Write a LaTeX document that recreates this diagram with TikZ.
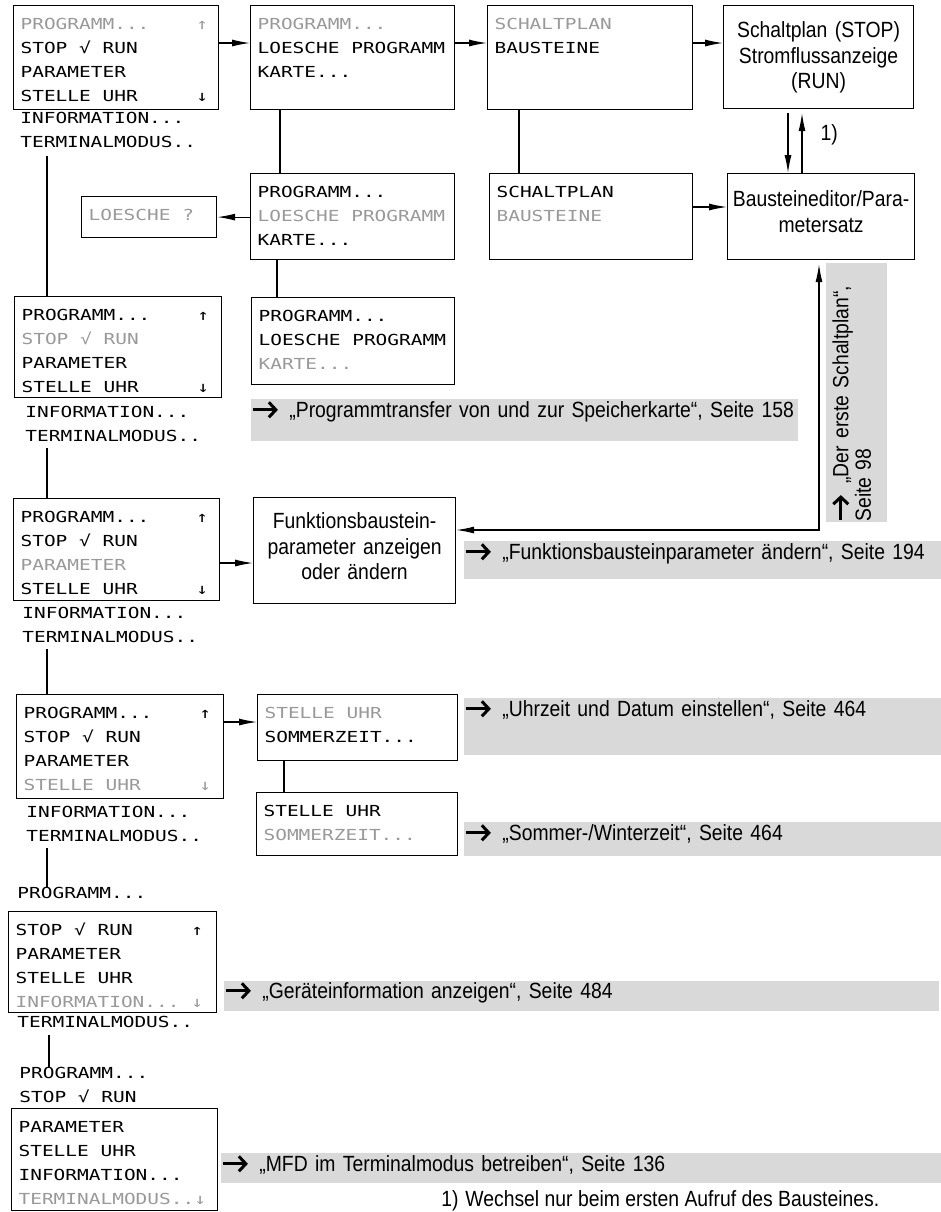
\documentclass[tikz,border=0pt]{standalone}
\usepackage{fontspec}
\setmainfont[FakeStretch=0.88]{Liberation Sans}
\newfontfamily\lcdfamily[FakeStretch=1.28]{DejaVu Sans Mono}
\usepackage{xcolor}
\usepackage{tikz}
\usetikzlibrary{arrows.meta}

\definecolor{lcdgrey}{gray}{0.6}
\definecolor{refgrey}{gray}{0.85}
\newcommand{\lcdfont}{\lcdfamily\fontsize{7.6pt}{11.9pt}\selectfont}
\newcommand{\boxfont}{\fontsize{11pt}{12.8pt}\selectfont}
\newcommand{\lcdoff}[1]{\textcolor{lcdgrey}{#1}}
\newcommand{\lcdgap}[1]{\setbox0\hbox{0}\hspace*{#1\wd0}}
\newcommand{\refarrow}{\makebox[19pt][l]{\tikz[baseline=-3.8pt, reset cm]
   \draw[line width=1.5pt, -{Straight Barb[length=3.5pt,width=7.5pt]}] (0pt,0pt) -- (12.5pt,0pt);}}

\begin{document}
\begin{tikzpicture}[x=0.5pt,y=-0.5pt,
   lcd/.style 2 args={draw, line width=0.6pt, font=\lcdfont, align=left, anchor=north west,
      inner xsep=3.5pt, inner ysep=0pt, text height=12pt, text width=#1, text depth=#2},
   lcdtxt/.style={font=\lcdfont, align=left, anchor=north west, inner sep=0pt,
      text height=5.6pt, text width=95pt},
   info/.style n args={3}{draw, line width=0.6pt, font=\boxfont, align=center, anchor=north west,
      inner sep=0pt, text width=#1, text height=#2, text depth=#3},
   ref/.style n args={3}{fill=refgrey, font=\boxfont, align=left, anchor=north west,
      inner sep=0pt, text width=#1, text height=#2, text depth=#3},
   link/.style={line width=0.6pt},
   arr/.style={line width=0.6pt, -{Latex[length=9pt,width=3.5pt]}}]
   \useasboundingbox (0,0) rectangle (941,1212);

   % top row
   \node[lcd={95.5pt}{40pt}] (a1) at (13,5) {\lcdoff{PROGRAMM...\lcdgap4↑}\\STOP\lcdgap1√\lcdgap1RUN\\PARAMETER\\STELLE\lcdgap1UHR\lcdgap5↓};
   \node[lcdtxt] (a1x) at (20,112.3) {INFORMATION...\\TERMINALMODUS..};
   \node[lcd={95pt}{40pt}] (b1) at (250,5) {\lcdoff{PROGRAMM...}\\LOESCHE\lcdgap1PROGRAMM\\KARTE...};
   \node[lcd={95.5pt}{40pt}] (c1) at (487,5) {\lcdoff{SCHALTPLAN}\\BAUSTEINE};
   \node[info={95pt}{16pt}{35.5pt}] (d1) at (723,5) {Schaltplan (STOP)\\Stromflussanzeige\\(RUN)};

   \node[lcd={95pt}{31pt}] (b2) at (250,173) {PROGRAMM...\\\lcdoff{LOESCHE\lcdgap1PROGRAMM}\\KARTE...};
   \node[lcd={60.5pt}{8.5pt}] (loe) at (81,196) {\lcdoff{LOESCHE\lcdgap1?}};
   \node[lcd={94.5pt}{31pt}] (c2) at (489,173) {SCHALTPLAN\\\lcdoff{BAUSTEINE}};
   \node[info={93.5pt}{16.5pt}{26.5pt}] (d2) at (727,173) {Bausteineditor/Para-\\metersatz};

   % STOP/RUN
   \node[lcd={96.5pt}{38.5pt}] (a2) at (14,296) {PROGRAMM...\lcdgap4↑\\\lcdoff{STOP\lcdgap1√\lcdgap1RUN}\\PARAMETER\\STELLE\lcdgap1UHR\lcdgap5↓};
   \node[lcdtxt] (a2x) at (25,406.3) {INFORMATION...\\TERMINALMODUS..};
   \node[lcd={94.5pt}{31.5pt}] (b3) at (251,297) {PROGRAMM...\\LOESCHE\lcdgap1PROGRAMM\\\lcdoff{KARTE...}};
   \node[ref={273.5pt}{9pt}{12pt}] (r1) at (251,399) {\refarrow\mbox{„Programmtransfer von und zur Speicherkarte“, Seite 158}};
   \node[ref={129.5pt}{11pt}{19.5pt}, rotate=90, font=\fontsize{11pt}{10pt}\selectfont] (r7) at (826,522)
      {\refarrow\mbox{„Der erste Schaltplan“,}\\Seite 98};

   % PARAMETER
   \node[lcd={96pt}{39pt}] (a3) at (13,498) {PROGRAMM...\lcdgap4↑\\STOP\lcdgap1√\lcdgap1RUN\\\lcdoff{PARAMETER}\\STELLE\lcdgap1UHR\lcdgap5↓};
   \node[lcdtxt] (a3x) at (22,607.3) {INFORMATION...\\TERMINALMODUS..};
   \node[info={101pt}{15.5pt}{37.5pt}] (f) at (253,497) {Funktionsbaustein-\\parameter anzeigen\\oder ändern};
   \node[ref={238.5pt}{9pt}{10pt}] (r2) at (464,541) {\refarrow\mbox{„Funktionsbausteinparameter ändern“, Seite 194}};

   % STELLE UHR
   \node[lcd={96.5pt}{40pt}] (a4) at (16,694) {PROGRAMM...\lcdgap4↑\\STOP\lcdgap1√\lcdgap1RUN\\PARAMETER\\\lcdoff{STELLE\lcdgap1UHR\lcdgap5↓}};
   \node[lcdtxt] (a4x) at (26,806.3) {INFORMATION...\\TERMINALMODUS..};
   \node[lcd={93pt}{21pt}] (g) at (257,694) {\lcdoff{STELLE\lcdgap1UHR}\\SOMMERZEIT...};
   \node[ref={238.5pt}{9pt}{19.5pt}] (r3) at (464,698) {\refarrow\mbox{„Uhrzeit und Datum einstellen“, Seite 464}};
   \node[lcd={93.5pt}{19.5pt}] (h) at (256,792) {STELLE\lcdgap1UHR\\\lcdoff{SOMMERZEIT...}};
   \node[ref={238.5pt}{9pt}{8pt}] (r4) at (464,822) {\refarrow\mbox{„Sommer-/Winterzeit“, Seite 464}};

   % INFORMATION
   \node[lcdtxt] (a5p) at (17,887.3) {PROGRAMM...};
   \node[lcd={97pt}{38.5pt}] (a5) at (8,911) {STOP\lcdgap1√\lcdgap1RUN\lcdgap5↑\\PARAMETER\\STELLE\lcdgap1UHR\\\lcdoff{INFORMATION...\lcdgap1↓}};
   \node[lcdtxt] (a5x) at (17,1016.3) {TERMINALMODUS..};
   \node[ref={357.5pt}{8.5pt}{6.5pt}] (r5) at (224,981) {\refarrow\mbox{„Geräteinformation anzeigen“, Seite 484}};

   % TERMINALMODUS
   \node[lcdtxt] (a6p) at (19,1067.3) {PROGRAMM...\\STOP\lcdgap1√\lcdgap1RUN};
   \node[lcd={96pt}{39pt}] (a6) at (11,1108) {PARAMETER\\STELLE\lcdgap1UHR\\INFORMATION...\\\lcdoff{TERMINALMODUS..↓}};
   \node[ref={360pt}{9pt}{6pt}] (r6) at (221,1153) {\refarrow\mbox{„MFD im Terminalmodus betreiben“, Seite 136}};
   \node[anchor=base west, inner sep=0pt, font=\boxfont] (fn) at (441,1206)
      {\makebox[12pt][l]{1)}Wechsel nur beim ersten Aufruf des Bausteines.};

   \draw[arr] (a1.east |- 0,43) -- (b1.west |- 0,43);
   \draw[arr] (b1.east |- 0,43) -- (c1.west |- 0,43);
   \draw[arr] (c1.east |- 0,43) -- (d1.west |- 0,43);
   \draw[link] (b1.south -| 280,0) -- (b2.north -| 280,0);
   \draw[link] (c1.south -| 519,0) -- (c2.north -| 519,0);
   \draw[arr] (b2.west |- loe.east) -- (loe.east);
   \draw[arr] (c2.east |- 0,207) -- (d2.west |- 0,207);
   \draw[arr, shorten <=2pt] (d1.south -| 788,0) -- (d2.north -| 788,0);
   \draw[arr, shorten >=2pt] (d2.north -| 802,0) -- node[pos=0.6, right=9pt, inner sep=0pt, font=\boxfont] (one) {1)} (d1.south -| 802,0);
   \draw[link] (b2.south -| 277,0) -- (b3.north -| 277,0);
   \draw[link, shorten <=4pt] (a1x.south -| 47,0) -- (a2.north -| 47,0);
   \draw[link, shorten <=3pt] (a2x.south -| 47,0) -- (a3.north -| 47,0);
   \draw[arr] (a3.east |- 0,563) -- (f.west |- 0,563);
   \draw[line width=0.6pt, {Latex[length=9pt,width=3.5pt]}-{Latex[length=9pt,width=3.5pt]}, shorten >=2pt]
      (f.east |- 0,530) -| (d2.south -| 819,0);
   \draw[link, shorten <=3pt] (a3x.south -| 47,0) -- (a4.north -| 47,0);
   \draw[arr] (a4.east |- 0,722) -- (g.west |- 0,722);
   \draw[link] (g.south -| 284,0) -- (h.north -| 284,0);
   \draw[link, shorten <=3pt] (a4x.south -| 47,0) -- (a5p.north -| 47,0);
   \draw[link, shorten <=3pt] (a5x.south -| 49,0) -- (a6p.north -| 49,0);
\end{tikzpicture}
\end{document}
